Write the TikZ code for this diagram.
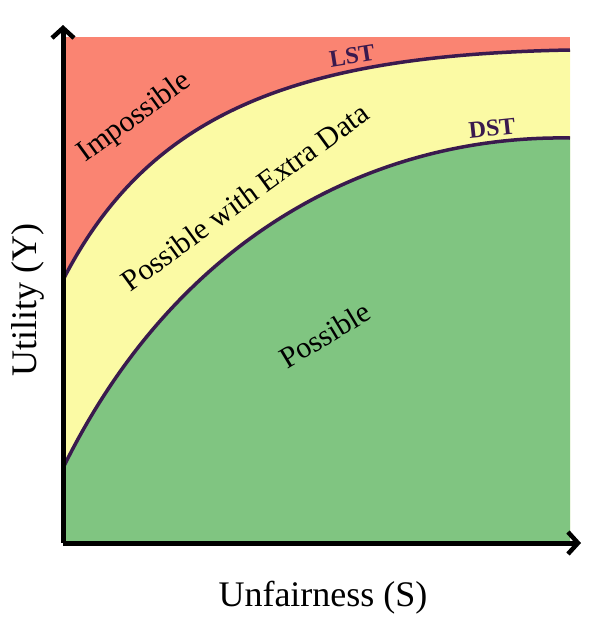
\documentclass[tikz,border=0pt]{standalone}
\usepackage{fontspec}
\setmainfont{Liberation Serif}
\usetikzlibrary{arrows.meta}
\definecolor{zonered}{HTML}{FA8472}
\definecolor{zoneyellow}{HTML}{FBFAA4}
\definecolor{zonegreen}{HTML}{80C581}
\definecolor{curvecol}{HTML}{3A1A4E}
\tikzset{
  zonelabel/.style={font=\fontsize{30}{34}\selectfont, inner sep=0pt},
  curvelabel/.style={font=\bfseries\fontsize{24}{28}\selectfont, text=curvecol, inner sep=0pt},
  axislabel/.style={font=\fontsize{36}{40}\selectfont, inner sep=0pt},
  axis/.style={line width=5pt, -{Straight Barb[length=10pt,width=22pt,line width=4.5pt]}}
}
\begin{document}
\begin{tikzpicture}[x=1pt,y=-1pt]
\useasboundingbox (0,0) rectangle (606,627);
% zones
\fill[zonered] (63,37) rectangle (570,543);
\fill[zoneyellow] (63,280) .. controls (150,110) and (300,55) .. (570,50) -- (570,543) -- (63,543) -- cycle;
\fill[zonegreen] (63,468) .. controls (180,230) and (380,135) .. (570,138) -- (570,543) -- (63,543) -- cycle;
% frontiers
\draw[curvecol, line width=3.5pt] (63,280) .. controls (150,110) and (300,55) .. (570,50);
\draw[curvecol, line width=3.5pt] (63,468) .. controls (180,230) and (380,135) .. (570,138);
\node[curvelabel, rotate=9] (lst) at (352,56) {LST};
\node[curvelabel, rotate=6] (dst) at (492,128) {DST};
\node[zonelabel, rotate=36] (impossible) at (135,118) {Impossible};
\node[zonelabel, rotate=36] (extra) at (245,197) {Possible with Extra Data};
\node[zonelabel, rotate=31] (possible) at (325,335) {Possible};
% axes
\coordinate (origin) at (63,543);
\coordinate (ytop) at (63,25);
\coordinate (xend) at (581,543);
\draw[axis] (origin) -- (ytop);
\draw[axis] (origin) -- (xend);
\node[axislabel, rotate=90] (ylab) at (28,300) {Utility (Y)};
\node[axislabel] (xlab) at (323,598) {Unfairness (S)};
\end{tikzpicture}
\end{document}
